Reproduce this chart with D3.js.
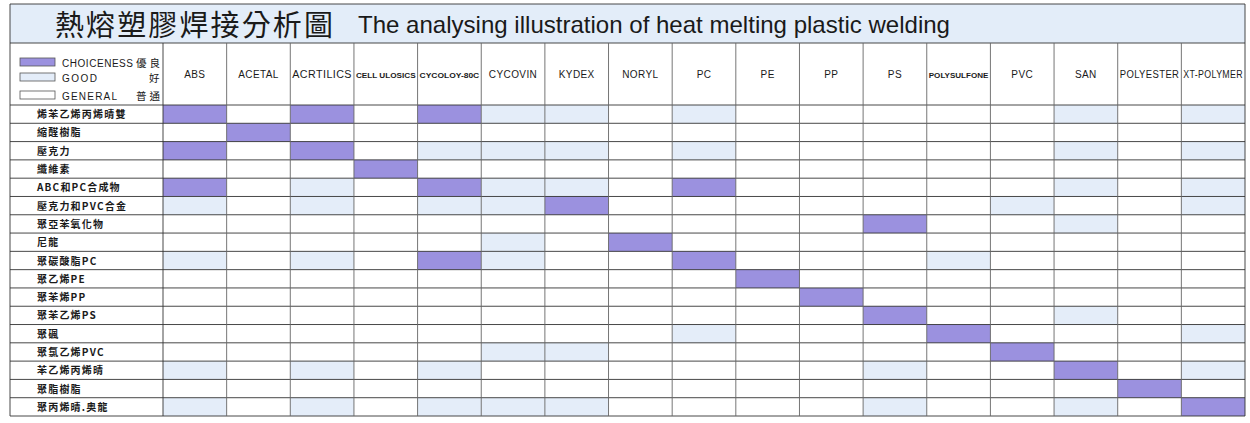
<!DOCTYPE html>
<html>
<head>
<meta charset="utf-8">
<script src="https://cdn.jsdelivr.net/npm/d3@7"></script>
<style>
  body { margin: 0; background: #fff; }
  svg { display: block; }
  text { font-family: "Liberation Sans", Arial, "Noto Sans CJK TC", sans-serif; fill: #1a1a1a; }
  .cjk { font-family: "Noto Sans CJK TC", "Noto Sans CJK SC", sans-serif; }
</style>
</head>
<body>
<div id="chart"></div>
<script>
// materials across the top
const columns = ['ABS', 'ACETAL', 'ACRTILICS', 'CELL ULOSICS', 'CYCOLOY-80C', 'CYCOVIN', 'KYDEX',
  'NORYL', 'PC', 'PE', 'PP', 'PS', 'POLYSULFONE', 'PVC', 'SAN', 'POLYESTER', 'XT-POLYMER'];

// materials down the side
const rowLabels = ['烯苯乙烯丙烯晴雙', '縮醛樹脂', '壓克力', '纖維素', 'ABC和PC合成物', '壓克力和PVC合金',
  '聚亞苯氧化物', '尼龍', '聚碳酸脂PC', '聚乙烯PE', '聚苯烯PP', '聚苯乙烯PS', '聚碸', '聚氯乙烯PVC',
  '苯乙烯丙烯晴', '聚脂樹脂', '聚丙烯晴.奥龍'];

// C = choiceness, G = good, . = general (one char per column)
const ratings = [
  'C.C.CGG.G.....G.G',
  '.C...............',
  'C.C.GGG.G.....G.G',
  '...C.............',
  'C.G.CGG.C.....G.G',
  'G.G.GGC......G..G',
  '...........C..G..',
  '.....G.C.........',
  'G.G.CG..C...G....',
  '.........C.......',
  '..........C......',
  '...........C..G..',
  '........G...C...G',
  '.....GG......C...',
  'G.G.G......G..C.G',
  '...............C.',
  'G.G.GGG....G..G.C'
];

const legendItems = [
  { code: 'C', en: 'CHOICENESS', zh: '優良' },
  { code: 'G', en: 'GOOD', zh: '好' },
  { code: '.', en: 'GENERAL', zh: '普通' }
];

const titleZh = '熱熔塑膠焊接分析圖';
const titleEn = 'The analysing illustration of heat melting plastic welding';

const width = 1250;
const height = 423;

const fillFor = { C: '#9b91df', G: '#e4edf9', '.': '#ffffff' };

const table = { left: 10, right: 1245, top: 4, titleBottom: 43, headBottom: 105, bottom: 416, labelRight: 163 };

const svg = d3.select('#chart')
  .append('svg')
  .attr('width', width)
  .attr('height', height);

const xScale = d3.scaleBand()
  .domain(columns)
  .range([table.labelRight, table.right]);

const yScale = d3.scaleBand()
  .domain(rowLabels)
  .range([table.headBottom, table.bottom]);

// title band
svg.append('rect')
  .attr('x', table.left).attr('y', table.top)
  .attr('width', table.right - table.left).attr('height', table.titleBottom - table.top)
  .attr('fill', '#e3edf9');

svg.append('text')
  .attr('class', 'cjk')
  .attr('x', 55).attr('y', 36)
  .attr('font-size', 29)
  .attr('font-weight', 400)
  .attr('textLength', 278)
  .attr('lengthAdjust', 'spacing')
  .text(titleZh);

svg.append('text')
  .attr('x', 358).attr('y', 33)
  .attr('font-size', 24)
  .attr('textLength', 592)
  .attr('lengthAdjust', 'spacingAndGlyphs')
  .text(titleEn);

// cells
const cells = rowLabels.flatMap((r, i) =>
  columns.map((c, j) => ({ row: r, col: c, code: ratings[i][j] })));

svg.append('g')
  .selectAll('rect')
  .data(cells.filter(d => d.code !== '.'))
  .join('rect')
  .attr('x', d => xScale(d.col))
  .attr('y', d => yScale(d.row))
  .attr('width', xScale.bandwidth())
  .attr('height', yScale.bandwidth())
  .attr('fill', d => fillFor[d.code]);

// column headers, the long ones squeezed to fit their column
const tight = { 'CELL ULOSICS': 8, 'CYCOLOY-80C': 7.5, 'POLYSULFONE': 7 };
const squeezed = ['ACRTILICS', 'CELL ULOSICS', 'CYCOLOY-80C', 'POLYSULFONE', 'POLYESTER', 'XT-POLYMER'];
svg.append('g')
  .selectAll('text')
  .data(columns)
  .join('text')
  .attr('x', d => xScale(d) + xScale.bandwidth() / 2)
  .attr('y', 78)
  .attr('text-anchor', 'middle')
  .attr('font-size', d => tight[d] || 10)
  .attr('font-weight', d => tight[d] ? 'bold' : 'normal')
  .attr('letter-spacing', d => tight[d] ? 0 : 0.4)
  .each(function (d) {
    if (squeezed.includes(d)) {
      d3.select(this).attr('textLength', xScale.bandwidth() - 4).attr('lengthAdjust', 'spacingAndGlyphs');
    }
  })
  .text(d => d);

// row labels
svg.append('g')
  .selectAll('text')
  .data(rowLabels)
  .join('text')
  .attr('class', 'cjk')
  .attr('x', 37)
  .attr('y', d => yScale(d) + yScale.bandwidth() / 2 + 4)
  .attr('font-size', 10)
  .attr('font-weight', 700)
  .attr('letter-spacing', 1.2)
  .text(d => d);

// legend
const legendRowY = [58, 73, 91];
const legendTextWidth = [71, 35, 55];
const legend = svg.append('g')
  .selectAll('g')
  .data(legendItems)
  .join('g')
  .attr('transform', (d, i) => `translate(0, ${legendRowY[i]})`);

legend.append('rect')
  .attr('x', 20).attr('y', 0)
  .attr('width', 35).attr('height', 8)
  .attr('fill', d => fillFor[d.code])
  .attr('stroke', '#555')
  .attr('stroke-width', 0.8);

legend.append('text')
  .attr('x', 62).attr('y', 8.5)
  .attr('font-size', 10)
  .attr('textLength', (d, i) => legendTextWidth[i])
  .attr('lengthAdjust', 'spacing')
  .text(d => d.en);

legend.append('text')
  .attr('class', 'cjk')
  .attr('x', d => d.zh.length > 1 ? 136 : 149).attr('y', 8.5)
  .attr('font-size', 10.5)
  .attr('textLength', d => d.zh.length > 1 ? 24 : 11)
  .attr('lengthAdjust', 'spacing')
  .text(d => d.zh);

// grid lines
const grid = svg.append('g')
  .attr('stroke', '#333')
  .attr('stroke-width', 0.9);

const rowEdges = rowLabels.map(r => yScale(r)).concat([table.bottom]);
grid.selectAll('line.h')
  .data([table.top, table.titleBottom].concat(rowEdges))
  .join('line')
  .attr('class', 'h')
  .attr('x1', table.left).attr('x2', table.right)
  .attr('y1', d => d).attr('y2', d => d);

const colEdges = columns.map(c => xScale(c)).concat([table.right]);
grid.selectAll('line.v')
  .data(colEdges)
  .join('line')
  .attr('class', 'v')
  .attr('x1', d => d).attr('x2', d => d)
  .attr('y1', d => d === table.right ? table.top : table.titleBottom)
  .attr('y2', table.bottom)
  .attr('stroke', d => d === table.right || d === table.labelRight ? '#333' : '#666');

grid.append('line')
  .attr('x1', table.left).attr('x2', table.left)
  .attr('y1', table.top).attr('y2', table.bottom);
</script>
</body>
</html>
